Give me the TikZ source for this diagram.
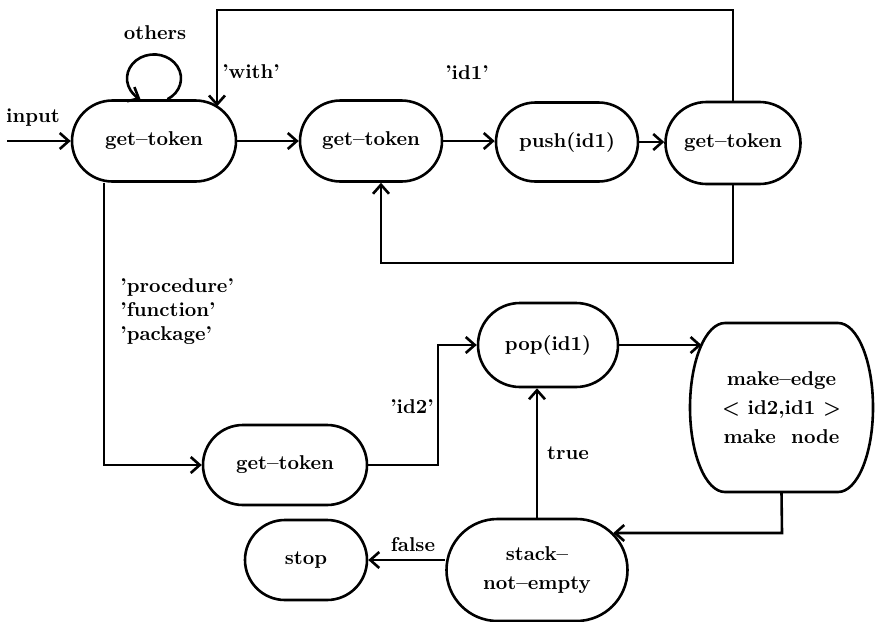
\documentclass[tikz,border=0pt]{standalone}
\usepackage{fontspec}
\usetikzlibrary{shapes.misc,arrows.meta,calc}

\tikzset{
  txt/.style={font=\fontsize{10}{14.5}\selectfont\bfseries},
  state/.style={rounded rectangle, draw, line width=1.3pt, inner sep=0pt,
                align=center, txt},
  flow/.style={line width=1.3pt, -{Straight Barb[length=4.5pt,width=8pt]}},
  edgelbl/.style={txt, inner sep=0pt}
}

\begin{document}
\begin{tikzpicture}[x=0.5pt,y=-0.5pt]
\useasboundingbox (0,0) rectangle (877,621);

% states
\node[state, minimum width=82pt,   minimum height=40.5pt] (g1)    at (154,141) {get--token};
\node[state, minimum width=71pt,   minimum height=40.5pt] (g2)    at (371,141) {get--token};
\node[state, minimum width=71pt,   minimum height=39.5pt] (push)  at (567,142) {push(id1)};
\node[state, minimum width=67.5pt, minimum height=41pt]   (g3)    at (733,143) {get--token};
\node[state, minimum width=82pt,   minimum height=40pt]   (g4)    at (285,465) {get--token};
\node[state, minimum width=70pt,   minimum height=42pt]   (pop)   at (548,345) {pop(id1)};
\node[state, minimum width=90.5pt, minimum height=51pt]   (stack) at (537,570) {stack--\\not--empty};
\node[state, minimum width=61pt,   minimum height=40pt]   (stop)  at (306,560) {stop};

% make-edge box: flat top and bottom with elliptic sides
\node[txt, align=center, inner sep=0pt, minimum width=91.5pt, minimum height=84.5pt]
  (make) at (781.5,407.5) {make--edge\\< id2,id1 >\\make\ \ node};
\draw[line width=1.3pt] (725,323) -- (838,323)
  arc[start angle=90, end angle=-90, x radius=17.5pt, y radius=42.25pt]
  -- (725,492)
  arc[start angle=270, end angle=90, x radius=17.5pt, y radius=42.25pt]
  -- cycle;

% helper points for the routed connectors
\coordinate (in0)  at (7,141);
\coordinate (wl)   at (217,10);
\coordinate (wr)   at (733,10);
\coordinate (lb)   at (381,263);
\coordinate (lc)   at (104,465);
\coordinate (kp)   at (438,465);
\coordinate (mkin) at (701.5,345);
\coordinate (mk2)  at (782,533);

% connectors
\draw[flow] (in0) -- (g1.west);
\draw[flow] ($(g1.north)+(13.5,0)$)
  arc[start angle=-60, end angle=240, x radius=13.5pt, y radius=12pt];
\draw[flow] (g1.east) -- (g1.east -| g2.west);
\draw[flow] (g2.east) -- (g2.east -| push.west);
\draw[flow] (push.east) -- (push.east -| g3.west);
\draw[flow] (g3.north) -- (wr) -- (wl) -- (wl |- g1.28.6);
\draw[flow] (g3.south) |- (lb) -- (lb |- g2.south);
\draw[flow] (lc |- g1.south) -- (lc) -- (g4.west);
\draw[flow] (g4.east) -- (kp) |- (pop.west);
\draw[flow] (pop.east) -- (mkin);
\draw[flow] (make.south) -- (mk2) -- (mk2 -| stack.26.3);
\draw[flow] (stack.north) -- (stack.north |- pop.south);
\draw[flow] (stack.west |- stop.east) -- (stop.east);

% labels
\node[edgelbl] (linput)  at (33,118)  {input};
\node[edgelbl] (lothers) at (155,33)  {others};
\node[edgelbl] (lwith)   at (251,72)  {'with'};
\node[edgelbl] (lid1)    at (467,73)  {'id1'};
\node[edgelbl, align=left, anchor=north west, font=\fontsize{10}{12}\selectfont\bfseries]
  (lkw) at (120,278) {'procedure'\\'function'\\'package'};
\node[edgelbl] (lid2)    at (412,407) {'id2'};
\node[edgelbl] (ltrue)   at (568,453) {true};
\node[edgelbl] (lfalse)  at (413,545) {false};
\end{tikzpicture}
\end{document}
